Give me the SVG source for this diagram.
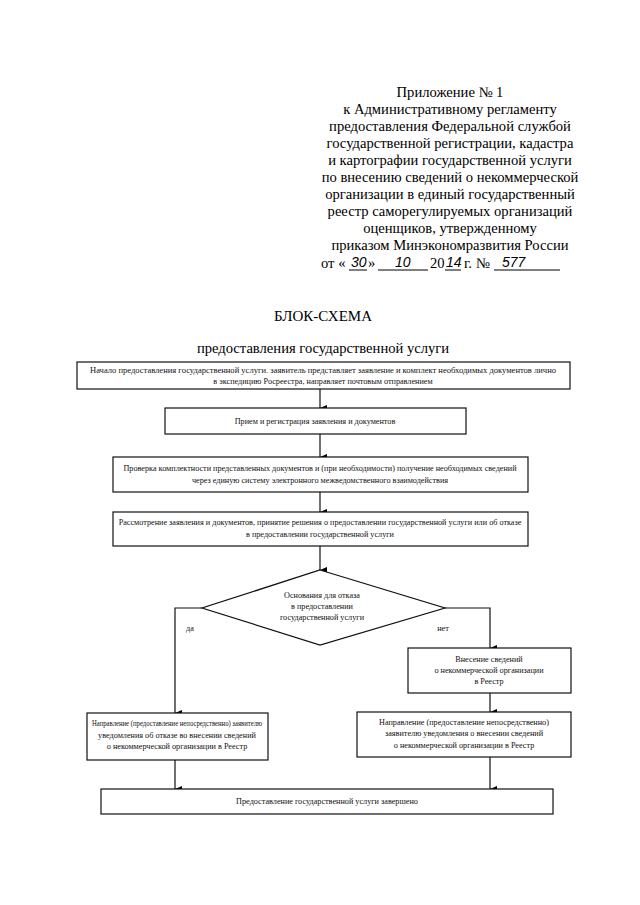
<svg xmlns="http://www.w3.org/2000/svg" width="640" height="905" viewBox="0 0 640 905">
<defs>
<marker id="ah" viewBox="0 0 6 7" refX="3" refY="7" markerWidth="6" markerHeight="7" markerUnits="userSpaceOnUse" orient="auto-start-reverse">
<path d="M0,0 L6,0 L3,7 Z" fill="#000"/>
</marker>
<style>
.hd{font-family:"Liberation Serif","Times New Roman",serif;font-size:14.6px;fill:#000;text-anchor:middle}
.hs{font-family:"Liberation Serif","Times New Roman",serif;font-size:14.6px;fill:#000}
.t{font-family:"Liberation Serif","Times New Roman",serif;font-size:8.2px;fill:#111;text-anchor:middle}
.box{fill:#fff;stroke:#111;stroke-width:1.2}
.c{fill:none;stroke:#111;stroke-width:1.2}
.hw{font-family:"Liberation Sans",Arial,sans-serif;font-style:italic;font-size:14px;fill:#000}
.ul{stroke:#000;stroke-width:1}
</style>
</defs>
<rect width="640" height="905" fill="#fff"/>
<g id="header">
<text class="hd" x="450" y="97">Приложение № 1</text>
<text class="hd" x="450" y="114">к Административному регламенту</text>
<text class="hd" x="450" y="131">предоставления Федеральной службой</text>
<text class="hd" x="450" y="148">государственной регистрации, кадастра</text>
<text class="hd" x="450" y="165">и картографии государственной услуги</text>
<text class="hd" x="450" y="182">по внесению сведений о некоммерческой</text>
<text class="hd" x="450" y="199">организации в единый государственный</text>
<text class="hd" x="450" y="216">реестр саморегулируемых организаций</text>
<text class="hd" x="450" y="233">оценщиков, утвержденному</text>
<text class="hd" x="450" y="250">приказом Минэкономразвития России</text>
<text class="hs" x="321" y="268">от «</text>
<text class="hw" x="351" y="267">30</text>
<line class="ul" x1="349" y1="270" x2="367" y2="270"/>
<text class="hs" x="368" y="268">»</text>
<text class="hw" x="395" y="267">10</text>
<line class="ul" x1="378" y1="270" x2="428" y2="270"/>
<text class="hs" x="430" y="268">20</text>
<text class="hw" x="446" y="267">14</text>
<line class="ul" x1="445" y1="270" x2="461" y2="270"/>
<text class="hs" x="464" y="268">г. №</text>
<text class="hw" x="502" y="267">577</text>
<line class="ul" x1="494" y1="270" x2="560" y2="270"/>
<text class="hd" x="323" y="321" style="font-size:15px">БЛОК-СХЕМА</text>
<text class="hd" x="323" y="353">предоставления государственной услуги</text>
</g>
<g id="connectors">
<line class="c" x1="320" y1="389" x2="320" y2="408" marker-end="url(#ah)"/>
<line class="c" x1="320" y1="434" x2="320" y2="457" marker-end="url(#ah)"/>
<line class="c" x1="320" y1="492" x2="320" y2="512" marker-end="url(#ah)"/>
<line class="c" x1="320" y1="546" x2="320" y2="570" marker-end="url(#ah)"/>
<polyline class="c" points="202,608 175,608 175,713" marker-end="url(#ah)"/>
<polyline class="c" points="445,608 490,608 490,648" marker-end="url(#ah)"/>
<line class="c" x1="490" y1="693" x2="490" y2="712" marker-end="url(#ah)"/>
<line class="c" x1="175" y1="760" x2="175" y2="789" marker-end="url(#ah)"/>
<line class="c" x1="490" y1="757" x2="490" y2="789" marker-end="url(#ah)"/>
<text class="t" x="190" y="631">да</text>
<text class="t" x="443" y="631">нет</text>
</g>
<g id="n1">
<rect class="box" x="77" y="362" width="493" height="27"/>
<text class="t" x="323" y="373" textLength="466" lengthAdjust="spacingAndGlyphs">Начало предоставления государственной услуги. заявитель представляет заявление и комплект необходимых документов лично</text>
<text class="t" x="323" y="384">в экспедицию Росреестра, направляет почтовым отправлением</text>
</g>
<g id="n2">
<rect class="box" x="165" y="408" width="301" height="26"/>
<text class="t" x="315" y="424">Прием и регистрация заявления и документов</text>
</g>
<g id="n3">
<rect class="box" x="113" y="457" width="415" height="35"/>
<text class="t" x="320" y="471">Проверка комплектности представленных документов и (при необходимости) получение необходимых сведений</text>
<text class="t" x="320" y="483">через единую систему электронного межведомственного взаимодействия</text>
</g>
<g id="n4">
<rect class="box" x="113" y="512" width="415" height="34"/>
<text class="t" x="320" y="525">Рассмотрение заявления и документов, принятие решения о предоставлении государственной услуги или об отказе</text>
<text class="t" x="320" y="537">в предоставлении государственной услуги</text>
</g>
<g id="n5">
<polygon class="box" points="320,570 445,608 320,645 202,608"/>
<text class="t" x="322" y="598">Основания для отказа</text>
<text class="t" x="322" y="609">в предоставлении</text>
<text class="t" x="322" y="620">государственной услуги</text>
</g>
<g id="n6">
<rect class="box" x="408" y="648" width="163" height="45"/>
<text class="t" x="489" y="662">Внесение сведений</text>
<text class="t" x="489" y="673">о некоммерческой организации</text>
<text class="t" x="489" y="684">в Реестр</text>
</g>
<g id="n7">
<rect class="box" x="87" y="713" width="181" height="47"/>
<text class="t" x="177" y="726" textLength="170" lengthAdjust="spacingAndGlyphs">Направление (предоставление непосредственно) заявителю</text>
<text class="t" x="177" y="738">уведомления об отказе во внесении сведений</text>
<text class="t" x="177" y="749">о некоммерческой организации в Реестр</text>
</g>
<g id="n8">
<rect class="box" x="357" y="712" width="214" height="45"/>
<text class="t" x="464" y="725">Направление (предоставление непосредственно)</text>
<text class="t" x="464" y="736">заявителю уведомления о внесении сведений</text>
<text class="t" x="464" y="748">о некоммерческой организации в Реестр</text>
</g>
<g id="n9">
<rect class="box" x="101" y="789" width="452" height="25"/>
<text class="t" x="327" y="804">Предоставление государственной услуги завершено</text>
</g>
</svg>
